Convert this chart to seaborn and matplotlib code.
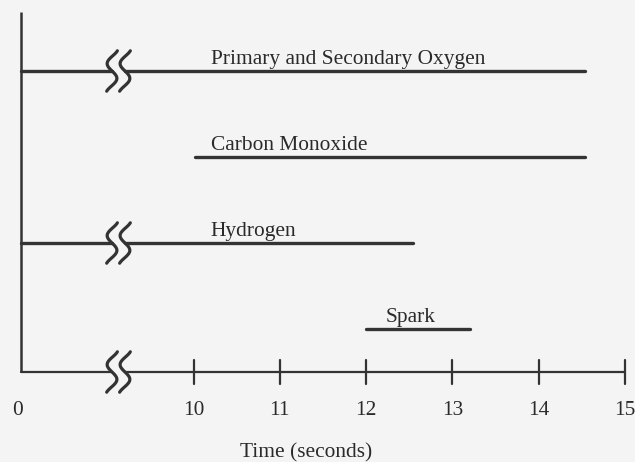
import numpy as np
import pandas as pd
import matplotlib
matplotlib.use("Agg")
import matplotlib.pyplot as plt
import seaborn as sns

# ---- data ----
signals = ["Primary and Secondary Oxygen", "Carbon Monoxide", "Hydrogen", "Spark"]
lanes = [3, 2, 1, 0]
starts = [0.0, 10.02, 0.0, 12.0]
ends = [14.54, 14.54, 12.54, 13.2]
tick_times = [0, 10, 11, 12, 13, 14, 15]
tick_labels = ["0", "10", "11", "12", "13", "14", "15"]
x_label = "Time (seconds)"

# ---- layout helpers ----
ZERO_POS = 8.0          # display position of t = 0 (axis broken before 10)
BREAK_L, BREAK_R = 9.055, 9.205
AXIS_Y = -0.5
INK = "#333333"
TXT = "#2a2a2a"
BG = "#f4f4f4"
FS = 15.4


def pos(t):
    return t if t >= 10 else ZERO_POS + t * 0.0


sns.set_theme(style="white")
plt.rcParams["font.family"] = ["Liberation Serif", "DejaVu Serif"]

fig = plt.figure(figsize=(6.35, 4.62), dpi=100, facecolor=BG)
ax = fig.add_axes([0, 0, 1, 1])
ax.set_facecolor(BG)
px_per_unit = (625 - 21) / 7.0
ax.set_xlim(ZERO_POS - 21 / px_per_unit, ZERO_POS + (635 - 21) / px_per_unit)
ax.set_ylim((329 - 462) / 86.0, 329 / 86.0)
ax.axis("off")

# build segments (split at the axis break where a signal starts before it)
rows = []
seg = 0
for name, lane, s, e in zip(signals, lanes, starts, ends):
    ps, pe = pos(s), pos(e)
    if ps < BREAK_L:
        rows += [(seg, ps, lane), (seg, BREAK_L, lane)]
        seg += 1
        rows += [(seg, BREAK_R, lane), (seg, pe, lane)]
        seg += 1
    else:
        rows += [(seg, ps, lane), (seg, pe, lane)]
        seg += 1
df = pd.DataFrame(rows, columns=["seg", "pos", "lane"])
sns.lineplot(data=df, x="pos", y="lane", units="seg", estimator=None, sort=False,
             color=INK, lw=2.4, ax=ax, legend=False)

# time axis (broken) + vertical axis
ax_rows = [(0, pos(tick_times[0]), AXIS_Y), (0, BREAK_L, AXIS_Y),
           (1, BREAK_R, AXIS_Y), (1, pos(tick_times[-1]), AXIS_Y)]
adf = pd.DataFrame(ax_rows, columns=["seg", "pos", "y"])
sns.lineplot(data=adf, x="pos", y="y", units="seg", estimator=None, sort=False,
             color=INK, lw=1.6, ax=ax, legend=False)
ax.plot([ZERO_POS, ZERO_POS], [AXIS_Y, 3.69], color=INK, lw=1.8, solid_capstyle="butt")

# tick marks and labels
for t, lab in zip(tick_times, tick_labels):
    p = pos(t)
    if t != 0:
        ax.plot([p, p], [AXIS_Y - 0.14, AXIS_Y + 0.14], color=INK, lw=1.6)
    ax.text(p - (0.04 if t == 0 else 0), -0.95, lab, ha="center", va="center",
            fontsize=FS, color=TXT)
ax.text(pos(11.31), -1.44, x_label, ha="center", va="center", fontsize=FS, color=TXT)

# signal labels
label_x = [10.2, 10.2, 10.2, 12.22]
for name, lane, lx in zip(signals, lanes, label_x):
    ax.text(lx, lane + 0.08, name, ha="left", va="baseline", fontsize=FS, color=TXT)

# break squiggles (S shapes)
theta = np.linspace(-np.pi / 3, 7 * np.pi / 3, 80)
tt = (theta - theta[0]) / (theta[-1] - theta[0])
def squiggle(xc, yc):
    h = 0.235
    A = 0.06
    B = 0.02
    xs = xc - A * np.sin(theta) + B * (0.5 - tt)
    ys = yc + h - 2 * h * tt
    ax.plot(xs, ys, color=INK, lw=2.3, solid_capstyle="round")

for lane, s in zip(lanes + [AXIS_Y], starts + [0.0]):
    if pos(s) < BREAK_L:
        squiggle(BREAK_L, lane)
        squiggle(BREAK_R, lane)

fig.savefig("out.png", dpi=100, facecolor=BG)
